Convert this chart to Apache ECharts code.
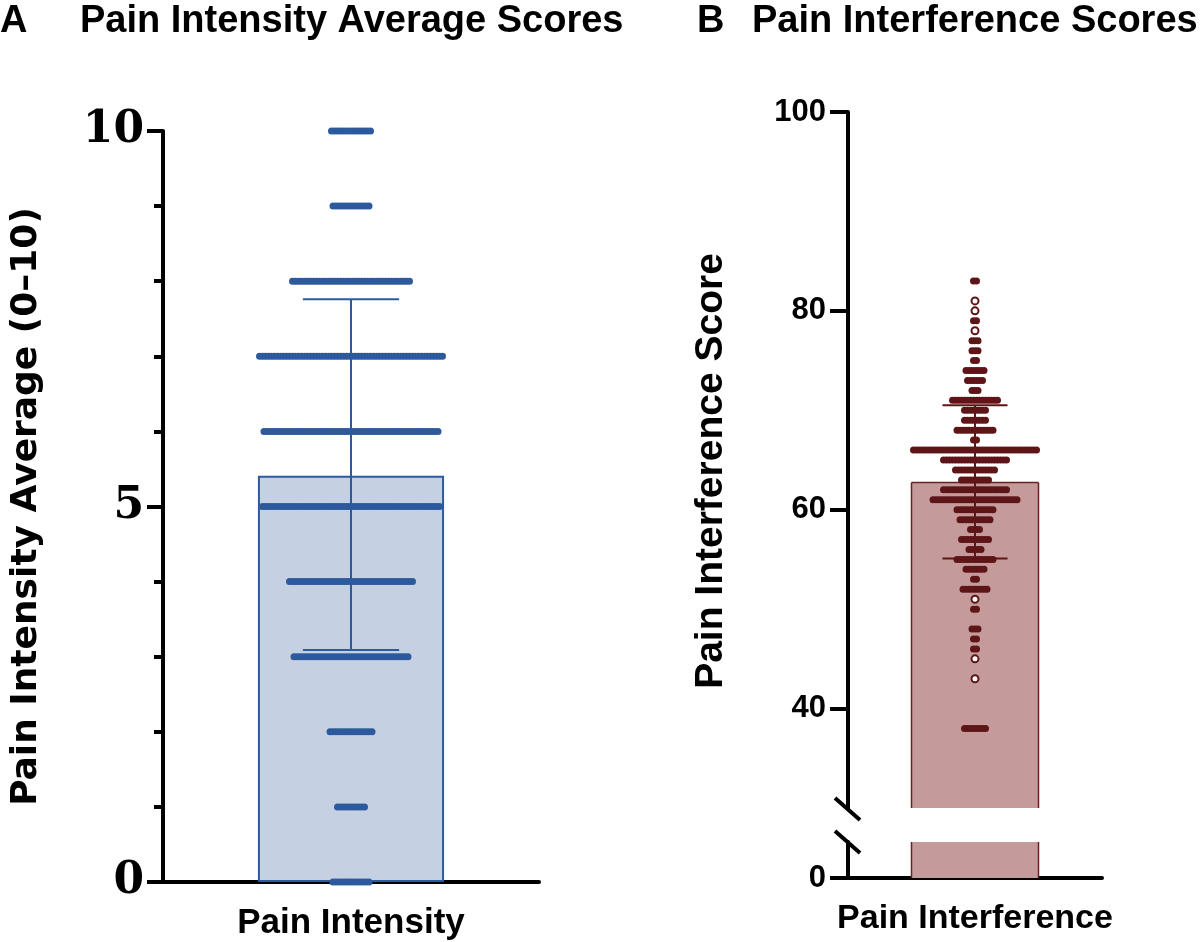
<!DOCTYPE html>
<html lang="en">
<head>
<meta charset="UTF-8">
<title>Pain Intensity / Pain Interference</title>
<script src="https://cdn.jsdelivr.net/npm/echarts@6/dist/echarts.min.js"></script>
<style>
  html, body { margin: 0; padding: 0; background: #fff; }
  #main { width: 1200px; height: 942px; }
</style>
</head>
<body>
<div id="main"></div>
<script>
// ---- panel A: pain intensity average (0-10) ----
var intensityCategory = ['Pain Intensity'];
var intensityLevels = [0, 1, 2, 3, 4, 5, 6, 7, 8, 9, 10];
var intensityCounts = [13, 10, 15, 39, 42, 60, 59, 62, 40, 13, 14];
var intensityMean = [5.41];
var intensityErr = [3.09, 7.76];          // lower / upper whisker
var intensityTicks = [0, 5, 10];

// ---- panel B: pain interference score ----
var interferenceCategory = ['Pain Interference'];
var interferenceLevels = [38, 43, 45, 46, 47, 48, 50, 51, 52, 53, 54, 55, 56, 57, 58, 59, 60,
  61, 62, 63, 64, 65, 66, 67, 68, 69, 70, 71, 72, 73, 74, 75, 76, 77, 78, 79, 80, 81, 83];
var interferenceCounts = [8, 1, 1, 2, 2, 3, 2, 1, 9, 2, 7, 13, 5, 10, 4, 11, 13,
  29, 22, 10, 14, 22, 42, 2, 13, 8, 8, 16, 3, 6, 7, 2, 3, 3, 1, 2, 1, 1, 2];
var interferenceMean = [62.74];
var interferenceErr = [55.1, 70.5];
var interferenceTicks = [40, 60, 80, 100];
var interferenceLowTicks = [0];

var blue = '#2c5a9c', blueFill = '#c5d1e3';
var red = '#5e1517', redFill = '#c59a9b', redEdge = '#6b2022';
var dotStep = 3;   // px between neighbouring dots in a row
var sans = 'Liberation Sans';

// spread each row of equal values sideways, centred on the category;
// third field = row size (lone dots are drawn hollow, as in Prism)
function swarm(levels, counts) {
  var pts = [];
  levels.forEach(function (v, k) {
    var n = counts[k];
    for (var i = 0; i < n; i++) {
      pts.push([(i - (n - 1) / 2) * dotStep, v, n]);
    }
  });
  return pts;
}

function dotSymbol(val) {
  return val[2] === 1 ? 'emptyCircle' : 'circle';
}

function errorBar(params, api) {
  var lo = api.coord([api.value(0), api.value(1)]);
  var hi = api.coord([api.value(0), api.value(2)]);
  var half = api.size([1, 0])[0] * 0.128;
  var st = { stroke: api.visual('color'), lineWidth: 2 };
  return {
    type: 'group',
    children: [
      { type: 'line', shape: { x1: hi[0], y1: hi[1], x2: lo[0], y2: lo[1] }, style: st },
      { type: 'line', shape: { x1: hi[0] - half, y1: hi[1], x2: hi[0] + half, y2: hi[1] }, style: st },
      { type: 'line', shape: { x1: lo[0] - half, y1: lo[1], x2: lo[0] + half, y2: lo[1] }, style: st }
    ]
  };
}

// bar that is cut cleanly at the edge of its grid (for the broken axis)
function brokenBar(params, api) {
  var cs = params.coordSys;
  var top = api.coord([api.value(0), api.value(1)]);
  var base = api.coord([api.value(0), 0]);
  var half = api.size([1, 0])[0] * 0.25;
  var yTop = Math.max(top[1], cs.y);
  var yBase = Math.min(base[1], cs.y + cs.height);
  var x0 = top[0] - half, x1 = top[0] + half;
  var edge = { stroke: redEdge, lineWidth: 1.5 };
  var kids = [
    { type: 'rect', shape: { x: x0, y: yTop, width: x1 - x0, height: yBase - yTop }, style: { fill: redFill } },
    { type: 'line', shape: { x1: x0, y1: yTop, x2: x0, y2: yBase }, style: edge },
    { type: 'line', shape: { x1: x1, y1: yTop, x2: x1, y2: yBase }, style: edge }
  ];
  if (top[1] >= cs.y) {
    kids.push({ type: 'line', shape: { x1: x0, y1: yTop, x2: x1, y2: yTop }, style: edge });
  }
  return { type: 'group', children: kids };
}

var chart = echarts.init(document.getElementById('main'));

var titleStyle = { fontFamily: sans, fontWeight: 'bold', fontSize: 38, color: '#000' };
var blackLine = { color: '#000', width: 4 };

var option = {
  backgroundColor: '#fff',
  animation: false,
  title: [
    { text: 'A', left: 0, top: 3, padding: 0, textStyle: titleStyle },
    { text: 'Pain Intensity Average Scores', left: 80, top: 3, padding: 0, textStyle: titleStyle },
    { text: 'B', left: 697, top: 3, padding: 0, textStyle: titleStyle },
    { text: 'Pain Interference Scores', left: 752, top: 3, padding: 0, textStyle: titleStyle }
  ],
  grid: [
    { left: 163, top: 131, width: 376, height: 751 },
    { left: 848, top: 112, width: 254, height: 696 },
    { left: 848, top: 842, width: 254, height: 36 }
  ],
  xAxis: [
    {
      type: 'category', gridIndex: 0, data: intensityCategory,
      axisLine: { lineStyle: blackLine },
      axisTick: { alignWithLabel: true, length: 16, lineStyle: blackLine },
      axisLabel: { margin: 24, color: '#000', fontFamily: sans, fontWeight: 'bold', fontSize: 35 }
    },
    { type: 'value', gridIndex: 0, min: -188, max: 188, show: false },
    { type: 'category', gridIndex: 1, data: interferenceCategory, show: false },
    { type: 'value', gridIndex: 1, min: -127, max: 127, show: false },
    {
      type: 'category', gridIndex: 2, data: interferenceCategory,
      axisLine: { lineStyle: blackLine },
      axisTick: { alignWithLabel: true, length: 16, lineStyle: blackLine },
      axisLabel: { margin: 24, color: '#000', fontFamily: sans, fontWeight: 'bold', fontSize: 34 }
    }
  ],
  yAxis: [
    {
      type: 'value', gridIndex: 0, min: 0, max: 10, interval: 5,
      name: 'Pain Intensity Average (0\u201310)', nameLocation: 'middle', nameGap: 118,
      nameTextStyle: { fontFamily: 'DejaVu Sans', fontWeight: 'bold', fontSize: 36, color: '#000' },
      axisLine: { show: true, onZero: false, lineStyle: blackLine },
      axisTick: { show: true, length: 16, lineStyle: blackLine },
      minorTick: { show: true, splitNumber: 5, length: 9, lineStyle: blackLine },
      axisLabel: {
        customValues: intensityTicks, margin: 19, color: '#000',
        fontFamily: 'DejaVu Serif', fontWeight: 'bold', fontSize: 44
      },
      splitLine: { show: false }
    },
    {
      type: 'value', gridIndex: 1, min: 30, max: 100,
      name: 'Pain Interference Score', nameLocation: 'middle', nameGap: 117,
      nameTextStyle: { fontFamily: sans, fontWeight: 'bold', fontSize: 39, color: '#000', padding: [0, 22, 0, 0] },
      axisLine: { show: true, onZero: false, lineStyle: blackLine },
      axisTick: { show: true, customValues: interferenceTicks, length: 18, lineStyle: blackLine },
      axisLabel: {
        customValues: interferenceTicks, margin: 22, color: '#000',
        fontFamily: sans, fontWeight: 'bold', fontSize: 31
      },
      splitLine: { show: false }
    },
    {
      type: 'value', gridIndex: 2, min: 0, max: 3.6,
      axisLine: { show: true, onZero: false, lineStyle: blackLine },
      axisTick: { show: true, customValues: interferenceLowTicks, length: 18, lineStyle: blackLine },
      axisLabel: {
        customValues: interferenceLowTicks, margin: 22, color: '#000',
        fontFamily: sans, fontWeight: 'bold', fontSize: 31
      },
      splitLine: { show: false }
    }
  ],
  graphic: [
    // axis-break marks on panel B
    { type: 'line', shape: { x1: 835, y1: 798, x2: 860, y2: 820 }, style: { stroke: '#000', lineWidth: 4 } },
    { type: 'line', shape: { x1: 835, y1: 831, x2: 860, y2: 853 }, style: { stroke: '#000', lineWidth: 4 } }
  ],
  series: [
    {
      type: 'bar', xAxisIndex: 0, yAxisIndex: 0, barWidth: '49.5%',
      data: intensityMean,
      itemStyle: { color: blueFill, borderColor: blue, borderWidth: 2 },
      z: 1
    },
    {
      type: 'scatter', xAxisIndex: 1, yAxisIndex: 0,
      data: swarm(intensityLevels, intensityCounts),
      symbol: 'circle', symbolSize: 7,
      itemStyle: { color: blue, opacity: 1 },
      z: 3
    },
    {
      type: 'custom', xAxisIndex: 0, yAxisIndex: 0,
      renderItem: errorBar,
      encode: { x: 0, y: [1, 2] },
      data: [[0, intensityErr[0], intensityErr[1]]],
      itemStyle: { color: blue },
      z: 4
    },
    {
      type: 'custom', xAxisIndex: 2, yAxisIndex: 1,
      renderItem: brokenBar, encode: { x: 0, y: 1 },
      data: [[0, interferenceMean[0]]],
      z: 1
    },
    {
      type: 'custom', xAxisIndex: 4, yAxisIndex: 2,
      renderItem: brokenBar, encode: { x: 0, y: 1 },
      data: [[0, interferenceMean[0]]],
      z: 1
    },
    {
      type: 'scatter', xAxisIndex: 3, yAxisIndex: 1,
      data: swarm(interferenceLevels, interferenceCounts),
      encode: { x: 0, y: 1 },
      symbol: dotSymbol, symbolSize: 7,
      itemStyle: { color: red, opacity: 1, borderWidth: 1.5 },
      z: 3
    },
    {
      type: 'custom', xAxisIndex: 2, yAxisIndex: 1,
      renderItem: errorBar,
      encode: { x: 0, y: [1, 2] },
      data: [[0, interferenceErr[0], interferenceErr[1]]],
      itemStyle: { color: red },
      z: 4
    }
  ]
};

chart.setOption(option);
</script>
</body>
</html>
